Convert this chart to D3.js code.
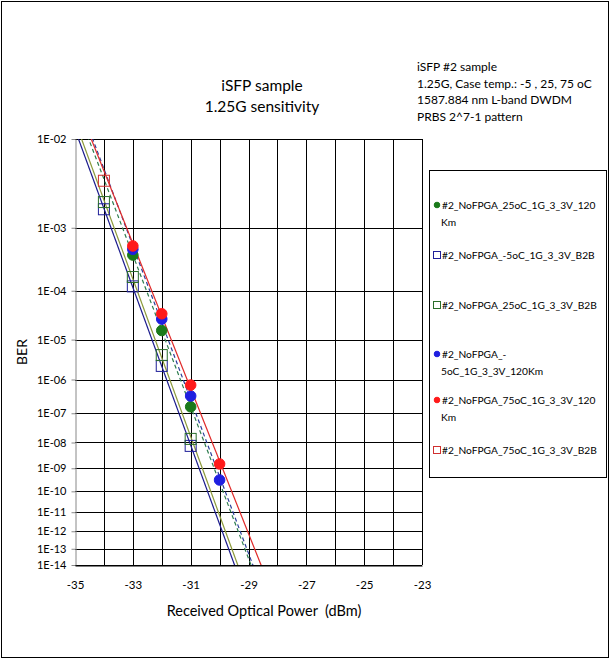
<!DOCTYPE html>
<html>
<head>
<meta charset="utf-8">
<script src="https://cdn.jsdelivr.net/npm/d3@7"></script>
<style>
  html, body { margin: 0; padding: 0; background: #fff; }
  svg { display: block; font-family: Lato, "Open Sans", sans-serif; }
  text { white-space: pre; }
</style>
</head>
<body>
<svg id="chart" width="614" height="660"></svg>
<script>
// ---------- data ----------
const xTicks = [-35, -33, -31, -29, -27, -25, -23];
const berTicks = [1e-2, 1e-3, 1e-4, 1e-5, 1e-6, 1e-7, 1e-8, 1e-9, 1e-10, 1e-11, 1e-12, 1e-13, 1e-14];
const berTickLabels = ["1E-02","1E-03","1E-04","1E-05","1E-06","1E-07","1E-08","1E-09","1E-10","1E-11","1E-12","1E-13","1E-14"];

const seriesNames = [
  "#2_NoFPGA_25oC_1G_3_3V_120Km",
  "#2_NoFPGA_-5oC_1G_3_3V_B2B",
  "#2_NoFPGA_25oC_1G_3_3V_B2B",
  "#2_NoFPGA_-5oC_1G_3_3V_120Km",
  "#2_NoFPGA_75oC_1G_3_3V_120Km",
  "#2_NoFPGA_75oC_1G_3_3V_B2B"
];
const power25_120 = [-33, -32, -31];
const ber25_120   = [4.0e-4, 1.6e-5, 1.6e-7];
const powerM5_b2b = [-34, -33, -32, -31];
const berM5_b2b   = [1.75e-3, 1.2e-4, 2.3e-6, 7.5e-9];
const power25_b2b = [-34, -33, -32, -31];
const ber25_b2b   = [2.15e-3, 1.75e-4, 4.3e-6, 1.35e-8];
const powerM5_120 = [-33, -32, -31, -30];
const berM5_120   = [4.9e-4, 2.8e-5, 3.4e-7, 3.2e-10];
const power75_120 = [-33, -32, -31, -30];
const ber75_120   = [5.5e-4, 3.6e-5, 7.0e-7, 1.5e-9];
const power75_b2b = [-34];
const ber75_b2b   = [3.8e-3];

const notes = [
  "iSFP #2 sample",
  "1.25G, Case temp.: -5 , 25, 75 oC",
  "1587.884 nm L-band DWDM",
  "PRBS 2^7-1 pattern"
];

// ---------- styles ----------
const styles = [
  { marker: "circle", fill: "#1a7a1a", stroke: "#1a7a1a", line: "#2e7d4f", dash: "4,3" },
  { marker: "square", fill: "none", stroke: "#1f1f99", line: "#1a1a8c", dash: null },
  { marker: "square", fill: "none", stroke: "#2a6e2a", line: "#8c9a3a", dash: null },
  { marker: "circle", fill: "#1f1fe0", stroke: "#1f1fe0", line: "#2b3f9a", dash: "4,3" },
  { marker: "circle", fill: "#ff1a1a", stroke: "#ff1a1a", line: "#e02828", dash: null },
  { marker: "square", fill: "none", stroke: "#d03030", line: "#d06080", dash: "2,2" }
];

const series = [
  [power25_120, ber25_120],
  [powerM5_b2b, berM5_b2b],
  [power25_b2b, ber25_b2b],
  [powerM5_120, berM5_120],
  [power75_120, ber75_120],
  [power75_b2b, ber75_b2b]
].map((d, i) => ({
  name: seriesNames[i],
  style: styles[i],
  pts: d[0].map((p, j) => ({ x: p, ber: d[1][j] }))
}));

// ---------- scales ----------
const T = b => Math.log10(-Math.log10(b));
const pL = 75, pR = 422, pT = 139, pB = 565;
const x = d3.scaleLinear().domain([-35, -23]).range([pL, pR]);
const yT = d3.scaleLinear().domain([T(1e-2), T(1e-14)]).range([pT, pB]);
const y = b => yT(T(b));

const svg = d3.select("#chart");

// outer border
svg.append("rect").attr("x", 1.5).attr("y", 1.5).attr("width", 607).attr("height", 656)
  .attr("fill", "none").attr("stroke", "#000").attr("stroke-width", 1);

// titles
svg.append("text").attr("x", 262).attr("y", 91).attr("text-anchor", "middle")
  .attr("font-size", 15.5).attr("fill", "#000").text("iSFP sample");
svg.append("text").attr("x", 262).attr("y", 112).attr("text-anchor", "middle")
  .attr("font-size", 15.5).attr("fill", "#000").text("1.25G sensitivity");

// notes
svg.append("g").selectAll("text").data(notes).join("text")
  .attr("x", 417).attr("y", (d, i) => 71 + i * 16.6)
  .attr("font-size", 12).attr("fill", "#000").text(d => d);

// gridlines
const grid = svg.append("g");
grid.selectAll("line.h").data(berTicks).join("line")
  .attr("x1", pL).attr("x2", pR)
  .attr("y1", d => Math.round(y(d)) + 0.5).attr("y2", d => Math.round(y(d)) + 0.5)
  .attr("stroke", "#000").attr("stroke-width", 1);
grid.selectAll("line.v").data(d3.range(-34, -22, 1)).join("line")
  .attr("x1", d => Math.round(x(d)) + 0.5).attr("x2", d => Math.round(x(d)) + 0.5)
  .attr("y1", pT).attr("y2", pB)
  .attr("stroke", "#000").attr("stroke-width", 1);

// y axis
const yAxis = d3.axisLeft(yT)
  .tickValues(berTicks.map(T))
  .tickFormat((d, i) => berTickLabels[i])
  .tickSize(4).tickSizeOuter(0);
const gy = svg.append("g").attr("transform", `translate(${pL + 0.5},0)`).call(yAxis);
gy.select(".domain").attr("stroke", "#888");
gy.selectAll(".tick line").attr("stroke", "#888");
gy.selectAll(".tick text").attr("font-size", 11).attr("fill", "#000").attr("font-family", "Lato, sans-serif").attr("x", -9);

// x axis
const xAxis = d3.axisBottom(x).tickValues(xTicks).tickFormat(d3.format("d")).tickSize(0).tickSizeOuter(0);
const gx = svg.append("g").attr("transform", `translate(0,${pB + 0.5})`).call(xAxis);
gx.select(".domain").attr("stroke", "#000");
gx.selectAll(".tick text").attr("font-size", 11.5).attr("fill", "#000").attr("font-family", "Lato, sans-serif").attr("dy", "1.75em")
  .text(d => d < 0 ? "-" + Math.abs(d) : d);

// axis titles
svg.append("text").attr("transform", "translate(27,352) rotate(-90)").attr("text-anchor", "middle")
  .attr("font-size", 14).attr("fill", "#000").text("BER");
svg.append("text").attr("x", 264).attr("y", 616).attr("text-anchor", "middle")
  .attr("font-size", 14.5).attr("fill", "#000").text("Received Optical Power  (dBm)");

// clip
const defs = svg.append("defs");
defs.append("clipPath").attr("id", "plotclip").append("rect")
  .attr("x", pL).attr("y", pT).attr("width", pR - pL).attr("height", pB - pT);

// trendlines (least squares in transformed space)
const trend = svg.append("g").attr("clip-path", "url(#plotclip)");
series.forEach(s => {
  if (s.pts.length < 2) return;
  const xs = s.pts.map(p => p.x), ts = s.pts.map(p => T(p.ber));
  const mx = d3.mean(xs), mt = d3.mean(ts);
  const slope = d3.sum(xs, (v, i) => (v - mx) * (ts[i] - mt)) / d3.sum(xs, v => (v - mx) ** 2);
  const f = v => mt + slope * (v - mx);
  const x0 = -35, x1 = -23;
  trend.append("line")
    .attr("x1", x(x0)).attr("y1", yT(f(x0)))
    .attr("x2", x(x1)).attr("y2", yT(f(x1)))
    .attr("stroke", s.style.line).attr("stroke-width", 1.2)
    .attr("stroke-dasharray", s.style.dash);
});

// markers
const marks = svg.append("g");
series.forEach(s => {
  const g = marks.append("g");
  if (s.style.marker === "circle") {
    g.selectAll("circle").data(s.pts).join("circle")
      .attr("cx", d => x(d.x)).attr("cy", d => y(d.ber)).attr("r", 5.3)
      .attr("fill", s.style.fill).attr("stroke", s.style.stroke);
  } else {
    g.selectAll("rect").data(s.pts).join("rect")
      .attr("x", d => x(d.x) - 5.5).attr("y", d => y(d.ber) - 5.5)
      .attr("width", 11).attr("height", 11)
      .attr("fill", "none").attr("stroke", s.style.stroke).attr("stroke-width", 1);
  }
});

// legend
const lg = svg.append("g");
lg.append("rect").attr("x", 429.5).attr("y", 170.5).attr("width", 177).attr("height", 307)
  .attr("fill", "#fff").attr("stroke", "#000");
defs.append("clipPath").attr("id", "lgclip").append("rect")
  .attr("x", 430).attr("y", 171).attr("width", 170).attr("height", 306);
const legendLines = [
  ["#2_NoFPGA_25oC_1G_3_3V_120", "Km"],
  ["#2_NoFPGA_-5oC_1G_3_3V_B2B"],
  ["#2_NoFPGA_25oC_1G_3_3V_B2B"],
  ["#2_NoFPGA_-", "5oC_1G_3_3V_120Km"],
  ["#2_NoFPGA_75oC_1G_3_3V_120", "Km"],
  ["#2_NoFPGA_75oC_1G_3_3V_B2B"]
];
const legendY = [209, 259, 309, 358, 404, 454];
const lgItems = lg.append("g").attr("clip-path", "url(#lgclip)");
series.forEach((s, i) => {
  const yy = legendY[i];
  if (s.style.marker === "circle") {
    lgItems.append("circle").attr("cx", 437).attr("cy", yy - 4).attr("r", 2.8)
      .attr("fill", s.style.fill).attr("stroke", s.style.stroke);
  } else {
    lgItems.append("rect").attr("x", 433.5).attr("y", yy - 7.5).attr("width", 7).attr("height", 7)
      .attr("fill", "none").attr("stroke", s.style.stroke);
  }
  legendLines[i].forEach((t, k) => {
    lgItems.append("text").attr("x", k === 0 ? 442 : 441).attr("y", yy + k * 17)
      .attr("font-size", 10.2).attr("fill", "#000").text(t);
  });
});
</script>
</body>
</html>
